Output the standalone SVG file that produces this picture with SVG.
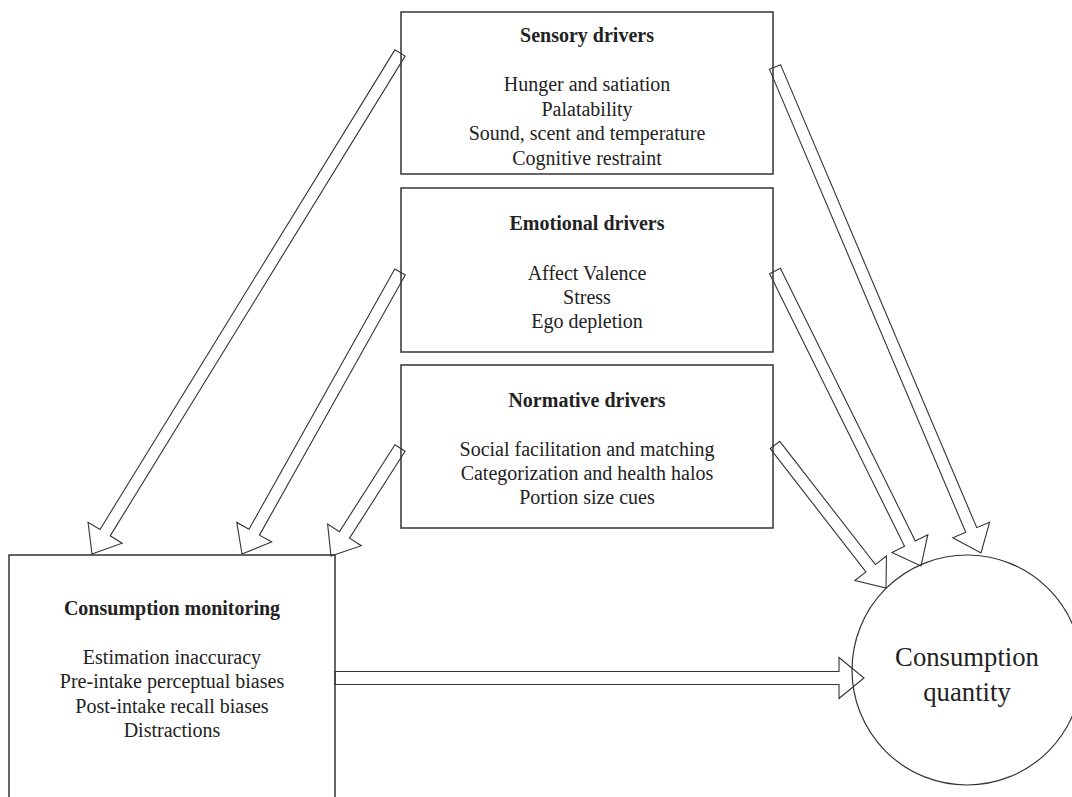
<svg xmlns="http://www.w3.org/2000/svg" width="1072" height="797" viewBox="0 0 1072 797">
<style>
.box{fill:#fff;stroke:#333;stroke-width:1.5}
.circ{fill:#fff;stroke:#333;stroke-width:1.2}
.arr{fill:none;stroke:#333;stroke-width:1.1;stroke-linejoin:miter}
.t{font-family:"Liberation Serif","Times New Roman",serif;font-size:20px;fill:#222;text-anchor:middle}
.b{font-weight:bold}
.big{font-size:26.7px}
</style>
<rect width="1072" height="797" fill="#fff"/>
<g id="sensory">
<rect class="box" x="401" y="12" width="372" height="162"/>
<text class="t b" x="587" y="42">Sensory drivers</text>
<text class="t" x="587" y="91">Hunger and satiation</text>
<text class="t" x="587" y="115.5">Palatability</text>
<text class="t" x="587" y="140">Sound, scent and temperature</text>
<text class="t" x="587" y="164.5">Cognitive restraint</text>
</g>
<g id="emotional">
<rect class="box" x="401" y="188" width="372" height="164"/>
<text class="t b" x="587" y="229.5">Emotional drivers</text>
<text class="t" x="587" y="279.5">Affect Valence</text>
<text class="t" x="587" y="303.5">Stress</text>
<text class="t" x="587" y="327.5">Ego depletion</text>
</g>
<g id="normative">
<rect class="box" x="401" y="365" width="372" height="163"/>
<text class="t b" x="587" y="406.5">Normative drivers</text>
<text class="t" x="587" y="455.5">Social facilitation and matching</text>
<text class="t" x="587" y="479.5">Categorization and health halos</text>
<text class="t" x="587" y="504">Portion size cues</text>
</g>
<g id="monitoring">
<rect class="box" x="9" y="555" width="326" height="250"/>
<text class="t b" x="172" y="614.5">Consumption monitoring</text>
<text class="t" x="172" y="663.5">Estimation inaccuracy</text>
<text class="t" x="172" y="688">Pre-intake perceptual biases</text>
<text class="t" x="172" y="712.5">Post-intake recall biases</text>
<text class="t" x="172" y="736.5">Distractions</text>
</g>
<g id="quantity">
<circle class="circ" cx="967" cy="670" r="115"/>
<text class="t big" x="967" y="666">Consumption</text>
<text class="t big" x="967" y="701">quantity</text>
</g>
<g id="connectors">
<polygon class="arr" points="394.89,49.86 99.98,529.56 88.05,522.23 92,554 122.13,543.17 110.2,535.84 405.11,56.14"/>
<polygon class="arr" points="394.77,269.07 248.99,529.26 236.77,522.41 242,554 271.67,541.97 259.45,535.12 405.23,274.93"/>
<polygon class="arr" points="394.94,444.77 339.4,531.7 327.61,524.16 331,556 361.31,545.7 349.52,538.16 405.06,451.23"/>
<polygon class="arr" points="769.48,69.34 965.72,532.32 952.83,537.79 981,553 989.65,522.17 976.76,527.64 780.52,64.66"/>
<polygon class="arr" points="769.62,273.66 904.53,546.25 891.98,552.46 921,566 927.84,534.72 915.29,540.93 780.38,268.34"/>
<polygon class="arr" points="770.26,448.68 865.93,571.93 854.87,580.51 886,588 886.47,555.99 875.41,564.57 779.74,441.32"/>
<polygon class="arr" points="335,671.5 839,671.5 839,657.5 864,678 839,698.5 839,684.5 335,684.5"/>
</g>
</svg>
